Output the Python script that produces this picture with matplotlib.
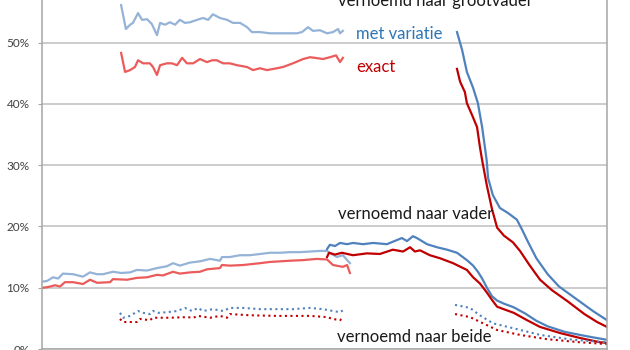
import matplotlib
matplotlib.use("Agg")
import matplotlib.pyplot as plt

plt.rcParams['font.family'] = ['Lato', 'DejaVu Sans']

# x = jaren na 1800, y = percentage
# grootvader, oude periode (lichte kleuren)
gf_var_old_x = [28.0, 29.7, 31.2, 32.2, 34.0, 35.4, 37.2, 38.9, 40.7, 41.8, 43.5, 45.3, 47.1, 48.8,
                50.6, 52.4, 54.9, 57.0, 58.8, 60.5, 63.0, 65.5, 67.6, 70.1, 72.6, 74.3, 77.2, 80.7,
                83.5, 86.7, 90.3, 92.0, 94.2, 95.9, 98.4, 100.9, 103.0, 104.8, 105.5, 106.5]
gf_var_old_y = [56.1, 52.2, 52.9, 53.2, 54.8, 53.7, 53.8, 53.0, 51.2, 53.2, 52.9, 53.3, 52.9, 53.7,
                53.2, 53.3, 53.7, 54.0, 53.7, 54.6, 54.0, 53.7, 53.2, 53.2, 52.5, 51.7, 51.7, 51.5,
                51.5, 51.5, 51.5, 51.7, 52.5, 51.9, 52.0, 51.5, 51.7, 52.2, 51.5, 51.9]
gf_exact_old_x = [28.0, 29.4, 31.2, 32.9, 34.0, 35.8, 38.2, 39.3, 40.7, 41.8, 44.2, 46.0, 47.8, 49.6,
                  51.3, 53.5, 55.9, 58.4, 60.2, 61.9, 64.1, 66.5, 69.0, 72.6, 74.7, 77.2, 79.6, 83.2,
                  85.3, 88.8, 92.4, 94.9, 96.6, 99.5, 101.9, 104.1, 105.5, 106.5]
gf_exact_old_y = [48.3, 45.2, 45.5, 46.0, 47.1, 46.6, 46.6, 46.0, 44.7, 46.3, 46.6, 46.6, 46.3, 47.5,
                  46.6, 46.6, 47.3, 46.8, 47.1, 47.1, 46.6, 46.6, 46.3, 46.0, 45.5, 45.8, 45.5, 45.8,
                  46.0, 46.6, 47.3, 47.6, 47.5, 47.3, 47.6, 47.9, 46.8, 47.5]

# grootvader, recente periode
gf_var_new_x = [146.9, 148.7, 150.4, 152.6, 154.3, 155.8, 157.4, 157.9, 159.6, 162.1, 164.9, 168.1,
                169.9, 172.0, 175.0, 179.0, 183.0, 189.0, 195.0, 200.0]
gf_var_new_y = [51.7, 48.8, 45.2, 42.6, 40.1, 36.2, 30.8, 27.9, 25.1, 23.0, 22.2, 21.1,
                19.5, 17.5, 14.8, 12.2, 10.2, 8.2, 6.2, 4.7]
gf_exact_new_x = [146.9, 148.0, 149.7, 150.4, 152.2, 154.0, 155.0, 155.8, 157.5, 159.3, 161.1, 163.5,
                  166.7, 169.2, 172.7, 176.3, 180.5, 186.0, 192.0, 196.5, 200.0]
gf_exact_new_y = [45.7, 43.6, 41.9, 40.1, 38.2, 36.2, 33.0, 30.8, 26.6, 22.8, 19.8, 18.5,
                  17.4, 16.0, 13.6, 11.3, 9.6, 7.8, 5.7, 4.4, 3.6]

# vader, oude periode
fa_var_old_x = [0.4, 1.8, 3.9, 5.7, 7.4, 11.0, 14.5, 17.0, 19.5, 21.6, 25.1, 28.0, 31.2, 33.6, 37.2,
                40.7, 44.2, 46.4, 48.8, 52.4, 55.9, 59.5, 63.0, 63.7, 66.5, 70.1, 73.6, 77.2, 80.7,
                84.2, 87.8, 91.3, 94.9, 98.4, 100.9, 102.5, 104.4, 106.5, 109.0]
fa_var_old_y = [11.0, 11.1, 11.7, 11.5, 12.3, 12.2, 11.8, 12.5, 12.2, 12.2, 12.6, 12.4, 12.5, 12.9, 12.8,
                13.2, 13.5, 14.0, 13.6, 14.1, 14.3, 14.7, 14.4, 15.0, 15.0, 15.3, 15.3, 15.5, 15.7,
                15.7, 15.8, 15.8, 15.9, 16.0, 16.0, 15.5, 15.0, 15.3, 14.0]
fa_exact_old_x = [0.4, 2.1, 4.6, 6.4, 8.1, 11.0, 14.5, 17.0, 19.5, 24.1, 25.1, 30.1, 33.6, 37.2, 40.7,
                  42.8, 46.4, 48.8, 52.4, 55.9, 58.4, 63.0, 63.7, 66.5, 71.2, 77.2, 80.7, 87.8, 92.4,
                  97.3, 100.9, 103.0, 106.5, 108.0, 109.0]
fa_exact_old_y = [10.0, 10.1, 10.4, 10.2, 10.9, 10.9, 10.6, 11.3, 10.8, 10.9, 11.4, 11.3, 11.6, 11.7, 12.1,
                  12.0, 12.6, 12.3, 12.5, 12.6, 13.0, 13.2, 13.7, 13.6, 13.7, 14.0, 14.2, 14.4, 14.5,
                  14.7, 14.6, 13.7, 13.4, 13.7, 12.4]

# vader, recente periode
fa_var_new_x = [100.9, 101.9, 103.7, 105.5, 108.0, 110.1, 113.6, 117.2, 122.1, 124.2, 127.4, 129.2,
                131.3, 132.7, 133.8, 136.3, 139.8, 143.4, 146.9, 150.4, 152.6, 154.3, 155.8, 157.5,
                159.3, 161.1, 163.5, 167.0, 171.0, 175.0, 179.0, 185.0, 190.4, 195.0, 200.0]
fa_var_new_y = [16.3, 17.0, 16.8, 17.3, 17.1, 17.3, 17.1, 17.3, 17.1, 17.5, 18.1, 17.6,
                18.4, 18.1, 17.8, 17.1, 16.6, 16.2, 15.7, 14.5, 13.6, 12.6, 11.5, 10.0,
                8.6, 7.9, 7.4, 6.8, 5.8, 4.6, 3.7, 2.8, 2.3, 1.9, 1.5]
fa_exact_new_x = [100.9, 101.6, 103.7, 106.2, 110.1, 115.0, 119.6, 124.2, 127.8, 130.3, 132.0, 133.8,
                  137.3, 140.9, 145.5, 150.4, 152.6, 155.0, 157.5, 159.3, 161.1, 164.0, 167.0, 171.7,
                  176.3, 183.4, 190.4, 197.5, 200.0]
fa_exact_new_y = [15.0, 15.7, 15.4, 15.7, 15.3, 15.6, 15.5, 16.2, 15.9, 16.6, 15.9, 16.1,
                  15.3, 14.8, 14.0, 12.9, 11.7, 10.7, 9.2, 8.0, 6.9, 6.4, 5.9, 4.7,
                  3.6, 2.6, 1.8, 1.1, 1.0]

# naar beide vernoemd
both_var_old_x = [27.6, 28.7, 31.2, 34.0, 35.8, 38.2, 39.3, 41.1, 44.2, 47.8, 50.6, 53.1, 55.2, 57.0,
                  60.5, 64.1, 66.5, 71.2, 77.2, 83.2, 88.8, 94.9, 99.5, 103.0, 105.5, 106.5]
both_var_old_y = [5.9, 5.1, 5.4, 6.2, 5.9, 5.7, 6.2, 5.9, 6.0, 6.2, 6.7, 6.2, 6.7, 6.2,
                  6.5, 6.2, 6.7, 6.7, 6.5, 6.5, 6.5, 6.7, 6.5, 6.2, 6.0, 6.3]
both_exact_old_x = [27.6, 28.7, 33.6, 34.7, 38.2, 39.3, 45.3, 51.3, 53.5, 55.2, 59.5, 63.0, 65.5, 66.5,
                    73.6, 83.2, 94.9, 100.9, 103.0, 105.5, 106.5]
both_exact_old_y = [4.9, 4.4, 4.4, 4.9, 4.7, 5.1, 5.1, 5.2, 5.1, 5.4, 5.1, 5.4, 5.1, 5.7,
                    5.5, 5.4, 5.4, 5.2, 4.9, 4.7, 5.1]
both_var_new_x = [146.2, 151.5, 155.0, 159.6, 166.7, 176.3, 188.0, 200.0]
both_var_new_y = [7.2, 6.7, 5.5, 4.2, 3.4, 2.3, 1.5, 1.1]
both_exact_new_x = [146.2, 151.5, 156.1, 161.1, 169.2, 178.8, 190.4, 200.0]
both_exact_new_y = [5.7, 5.2, 4.2, 3.1, 2.3, 1.6, 1.1, 0.8]

yticks = [0, 10, 20, 30, 40, 50]

light_blue = '#95B3D7'
light_red = '#EC5B5B'
dark_blue = '#4F81BD'
dark_red = '#C00000'

fig = plt.figure(figsize=(6.3, 3.5), dpi=100)
ax = fig.add_axes([42 / 630, 1 / 350, 565 / 630, 349 / 350])

lw = 1.6
ax.plot(gf_var_old_x, gf_var_old_y, color=light_blue, lw=lw)
ax.plot(gf_exact_old_x, gf_exact_old_y, color=light_red, lw=lw)
ax.plot(fa_var_old_x, fa_var_old_y, color=light_blue, lw=lw)
ax.plot(fa_exact_old_x, fa_exact_old_y, color=light_red, lw=lw)
ax.plot(fa_var_new_x, fa_var_new_y, color=dark_blue, lw=lw)
ax.plot(fa_exact_new_x, fa_exact_new_y, color=dark_red, lw=lw)
ax.plot(gf_var_new_x, gf_var_new_y, color=dark_blue, lw=lw)
ax.plot(gf_exact_new_x, gf_exact_new_y, color=dark_red, lw=lw)
ax.plot(both_var_old_x, both_var_old_y, color=dark_blue, lw=1.5, ls=':')
ax.plot(both_exact_old_x, both_exact_old_y, color=dark_red, lw=1.5, ls=':')
ax.plot(both_var_new_x, both_var_new_y, color=dark_blue, lw=1.5, ls=':')
ax.plot(both_exact_new_x, both_exact_new_y, color=dark_red, lw=1.5, ls=':')

ax.set_xlim(0, 200)
ax.set_ylim(0, 349 / 6.13)
ax.set_yticks(yticks)
ax.set_yticklabels([f'{v}%' for v in yticks])
ax.set_xticks([])
ax.grid(axis='y', color='#BFBFBF', lw=1.1)
ax.set_axisbelow(True)
ax.tick_params(axis='y', length=3, color='#A6A6A6', pad=6, labelsize=8.5, labelcolor='#404040')
for side in ['left', 'right', 'bottom']:
    ax.spines[side].set_color('#A6A6A6')
    ax.spines[side].set_linewidth(1.1)
ax.spines['top'].set_visible(False)

ax.text(104.8, 56.0, 'vernoemd naar grootvader', fontsize=12, color='#1a1a1a', va='baseline')
ax.text(111.2, 50.6, 'met variatie', fontsize=12, color='#2E75B6', va='baseline')
ax.text(111.2, 45.2, 'exact', fontsize=12, color='#C00000', va='baseline')
ax.text(104.8, 21.2, 'vernoemd naar vader', fontsize=12, color='#1a1a1a', va='baseline')
ax.text(104.4, 1.1, 'vernoemd naar beide', fontsize=12, color='#1a1a1a', va='baseline')

fig.savefig('out.png', dpi=100)
